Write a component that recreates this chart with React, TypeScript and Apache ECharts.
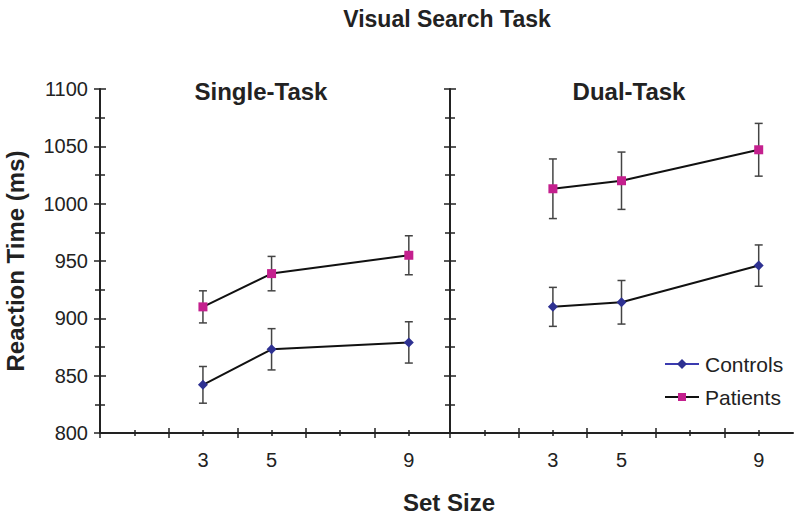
import React, { useEffect, useRef } from "react";
import * as echarts from "echarts";

const setSizes = [3, 5, 9];
const singleControls = [842, 873, 879];
const singleControlsErr = [16, 18, 18];
const singlePatients = [910, 939, 955];
const singlePatientsErr = [14, 15, 17];
const dualControls = [910, 914, 946];
const dualControlsErr = [17, 19, 18];
const dualPatients = [1013, 1020, 1047];
const dualPatientsErr = [26, 25, 23];

const yMajor = [800, 850, 900, 950, 1000, 1050, 1100];
const yMinor = [825, 875, 925, 975, 1025, 1075];
const xMajor = [0, 2, 4, 6, 8];
const xMinor = [1, 3, 5, 7, 9];

const FONT = '"Liberation Sans", Arial, Helvetica, sans-serif';
const AX = "#222";
const C_CTRL = "#2e3192";
const C_PAT = "#c4208e";

function xAxes(gridIndex: number, max: number) {
  const base = { type: "value", gridIndex, min: 0, max, splitLine: { show: false }, position: "bottom" };
  const mk = (vals: number[], inside: boolean, len: number, main: boolean) => ({
    ...base,
    axisLine: main ? { show: true, onZero: false, lineStyle: { color: AX, width: 2 } } : { show: false, onZero: false },
    axisTick: { show: true, customValues: vals, inside, length: len, lineStyle: { color: AX, width: 1.5 } },
    axisLabel: main
      ? { show: true, customValues: setSizes, margin: 17, fontSize: 20, color: AX, fontFamily: FONT, formatter: (v: number) => String(v) }
      : { show: false },
  });
  return [mk(xMajor, false, 5, true), mk(xMajor, true, 5, false), mk(xMinor, false, 3, false), mk(xMinor, true, 3, false)];
}

function yAxes(gridIndex: number, labels: boolean) {
  const base = { type: "value", gridIndex, min: 800, max: 1100, splitLine: { show: false }, position: "left" };
  const mk = (vals: number[], inside: boolean, len: number, main: boolean) => ({
    ...base,
    axisLine: main ? { show: true, onZero: false, lineStyle: { color: AX, width: 2 } } : { show: false, onZero: false },
    axisTick: { show: true, customValues: vals, inside, length: len, lineStyle: { color: AX, width: 1.5 } },
    axisLabel:
      main && labels
        ? { show: true, customValues: yMajor, margin: 12, fontSize: 20, color: AX, fontFamily: FONT, formatter: (v: number) => String(v) }
        : { show: false },
  });
  return [mk(yMajor, false, 6, true), mk(yMajor, true, 6, false), mk(yMinor, false, 5, false), mk(yMinor, true, 5, false)];
}

function errSeries(axisIdx: number, vals: number[], errs: number[]) {
  return {
    type: "custom",
    xAxisIndex: axisIdx,
    yAxisIndex: axisIdx,
    z: 1,
    data: setSizes.map((s, i) => [s, vals[i], errs[i]]),
    encode: { x: 0, y: 1 },
    renderItem: (params: any, api: any) => {
      const x = api.value(0);
      const y = api.value(1);
      const e = api.value(2);
      const top = api.coord([x, y + e]);
      const bot = api.coord([x, y - e]);
      const w = 4;
      const st = { stroke: "#444", lineWidth: 1.5 };
      return {
        type: "group",
        children: [
          { type: "line", shape: { x1: top[0], y1: top[1], x2: bot[0], y2: bot[1] }, style: st },
          { type: "line", shape: { x1: top[0] - w, y1: top[1], x2: top[0] + w, y2: top[1] }, style: st },
          { type: "line", shape: { x1: bot[0] - w, y1: bot[1], x2: bot[0] + w, y2: bot[1] }, style: st },
        ],
      };
    },
  };
}

function lineSeries(name: string, axisIdx: number, vals: number[], symbol: string, size: number, color: string) {
  return {
    name,
    type: "line",
    xAxisIndex: axisIdx,
    yAxisIndex: axisIdx,
    z: 3,
    data: setSizes.map((s, i) => [s, vals[i]]),
    symbol,
    symbolSize: size,
    itemStyle: { color },
    lineStyle: { color: "#111", width: 2 },
  };
}

export default function App() {
  const ref = useRef<HTMLDivElement>(null);
  useEffect(() => {
    if (!ref.current) return;
    const chart = echarts.init(ref.current, undefined, { renderer: "svg" });
    const option: any = {
      animation: false,
      backgroundColor: "#fff",
      grid: [
        { left: 100, top: 89, width: 350, height: 344 },
        { left: 450, top: 89, width: 343, height: 344 },
      ],
      xAxis: [...xAxes(0, 10.2), ...xAxes(1, 10)],
      yAxis: [...yAxes(0, true), ...yAxes(1, false)],
      series: [
        errSeries(0, singleControls, singleControlsErr),
        errSeries(0, singlePatients, singlePatientsErr),
        errSeries(4, dualControls, dualControlsErr),
        errSeries(4, dualPatients, dualPatientsErr),
        lineSeries("Controls", 0, singleControls, "diamond", 10, C_CTRL),
        lineSeries("Patients", 0, singlePatients, "rect", 9, C_PAT),
        lineSeries("Controls", 4, dualControls, "diamond", 10, C_CTRL),
        lineSeries("Patients", 4, dualPatients, "rect", 9, C_PAT),
      ],
      graphic: [
        { type: "text", x: 447, y: 19, style: { text: "Visual Search Task", font: `bold 23px ${FONT}`, fill: AX, textAlign: "center", textVerticalAlign: "middle" } },
        { type: "text", x: 261, y: 91, style: { text: "Single-Task", font: `bold 24px ${FONT}`, fill: AX, textAlign: "center", textVerticalAlign: "middle" } },
        { type: "text", x: 629, y: 91, style: { text: "Dual-Task", font: `bold 24px ${FONT}`, fill: AX, textAlign: "center", textVerticalAlign: "middle" } },
        { type: "text", x: 449, y: 502, style: { text: "Set Size", font: `bold 24px ${FONT}`, fill: AX, textAlign: "center", textVerticalAlign: "middle" } },
        { type: "text", x: 15, y: 261, rotation: Math.PI / 2, style: { text: "Reaction Time (ms)", font: `bold 24px ${FONT}`, fill: AX, textAlign: "center", textVerticalAlign: "middle" } },
        { type: "line", shape: { x1: 665, y1: 364, x2: 699, y2: 364 }, style: { stroke: "#3b3bb0", lineWidth: 2 } },
        { type: "polygon", shape: { points: [[682, 359], [687, 364], [682, 369], [677, 364]] }, style: { fill: C_CTRL } },
        { type: "text", x: 705, y: 364, style: { text: "Controls", font: `21px ${FONT}`, fill: AX, textAlign: "left", textVerticalAlign: "middle" } },
        { type: "line", shape: { x1: 665, y1: 397, x2: 699, y2: 397 }, style: { stroke: "#111", lineWidth: 2 } },
        { type: "rect", shape: { x: 678, y: 393, width: 8, height: 8 }, style: { fill: C_PAT } },
        { type: "text", x: 705, y: 397, style: { text: "Patients", font: `21px ${FONT}`, fill: AX, textAlign: "left", textVerticalAlign: "middle" } },
      ],
    };
    chart.setOption(option);
    return () => chart.dispose();
  }, []);
  return <div ref={ref} style={{ position: "absolute", left: 0, top: 0, width: 800, height: 521 }} />;
}
